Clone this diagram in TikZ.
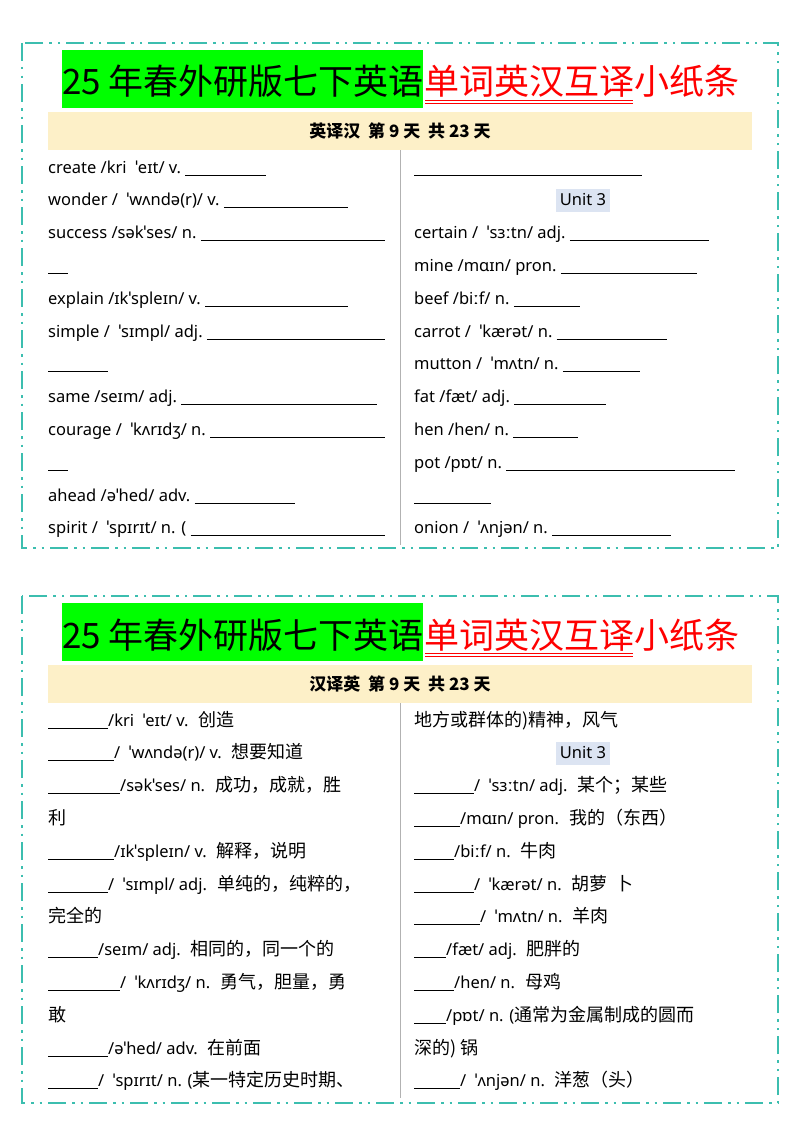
\documentclass[tikz,border=0pt]{standalone}
\usepackage{fontspec}
\setmainfont{Noto Sans}
\newfontfamily\cjk{Noto Sans CJK SC}
\newcommand{\C}[1]{{\cjk\fontsize{18}{20}\selectfont #1}}
\definecolor{teal1}{RGB}{60,190,175}
\definecolor{tan1}{RGB}{253,240,200}
\definecolor{green1}{RGB}{0,255,0}
\definecolor{red1}{RGB}{255,0,0}
\definecolor{unitbg}{RGB}{220,228,242}
\newcommand{\fillto}[2]{\makebox[#1pt][l]{#2\ \leaders\hrule height -1.6pt depth 2.4pt\hfill}}
\newcommand{\bl}[1]{\rule[-2.4pt]{#1pt}{0.8pt}}
\tikzset{x=1pt,y=-1pt,
 frame/.style={draw=teal1,line width=2.6pt,dash pattern=on 18pt off 6pt on 2.5pt off 6pt on 2.5pt off 6pt},
 row/.style={anchor=base west,inner sep=0pt,font=\fontsize{16.5}{20}\selectfont},
 ttl/.style={anchor=base west,inner sep=0pt,font=\cjk\fontsize{35}{40}\selectfont}}
\newcommand{\R}[1]{173+32.8*(#1-1)}
\begin{document}
\begin{tikzpicture}
\useasboundingbox (0,0) rectangle (800,1132);
\fill[white] (0,0) rectangle (800,1132);
% ---------- panel 1
\begin{scope}
\draw[frame] (22,43) rectangle (778,548);
\fill[green1] (62,50) rectangle (423,108);
\node[ttl] (t1a) at (62,95) {25 年春外研版七下英语};
\node[ttl,text=red1] (t1b) at (t1a.base east) {单词英汉互译小纸条};
\draw[red1,line width=1pt] (425,100) -- (633,100) (425,103.5) -- (633,103.5);
\fill[tan1] (48,112) rectangle (752,150);
\node[font=\cjk\fontsize{17}{20}\selectfont\bfseries] (h1) at (400,131) {英译汉 \ 第 9 天 \ 共 23 天};
\draw[gray!60,line width=0.8pt] (400,150) -- (400,545);
\node[row] (a1) at (48,{\R1}) {\fillto{218}{create /kri \ ˈeɪt/ v.}};
\node[row] (a2) at (48,{\R2}) {\fillto{300}{wonder / \ ˈwʌndə(r)/ v.}};
\node[row] (a3) at (48,{\R3}) {\fillto{337}{success /səkˈses/ n.}};
\node[row] (a4) at (48,{\R4}) {\bl{20}};
\node[row] (a5) at (48,{\R5}) {\fillto{300}{explain /ɪkˈspleɪn/ v.}};
\node[row] (a6) at (48,{\R6}) {\fillto{337}{simple / \ ˈsɪmpl/ adj.}};
\node[row] (a7) at (48,{\R7}) {\bl{60}};
\node[row] (a8) at (48,{\R8}) {\fillto{329}{same /seɪm/ adj.}};
\node[row] (a9) at (48,{\R9}) {\fillto{337}{courage / \ ˈkʌrɪdʒ/ n.}};
\node[row] (a10) at (48,{\R{10}}) {\bl{20}};
\node[row] (a11) at (48,{\R{11}}) {\fillto{247}{ahead /əˈhed/ adv.}};
\node[row] (a12) at (48,{\R{12}}) {\fillto{337}{spirit / \ ˈspɪrɪt/ n. (}};
\node[row] (b1) at (414,{\R1}) {\bl{228}};
\fill[unitbg] (556,{\R2-17}) rectangle (610,{\R2+6});
\node[row,anchor=base] (b2) at (583,{\R2}) {Unit 3};
\node[row] (b3) at (414,{\R3}) {\fillto{295}{certain / \ ˈsɜːtn/ adj.}};
\node[row] (b4) at (414,{\R4}) {\fillto{283}{mine /mɑɪn/ pron.}};
\node[row] (b5) at (414,{\R5}) {\fillto{166}{beef /biːf/ n.}};
\node[row] (b6) at (414,{\R6}) {\fillto{253}{carrot / \ ˈkærət/ n.}};
\node[row] (b7) at (414,{\R7}) {\fillto{226}{mutton / \ ˈmʌtn/ n.}};
\node[row] (b8) at (414,{\R8}) {\fillto{192}{fat /fæt/ adj.}};
\node[row] (b9) at (414,{\R9}) {\fillto{164}{hen /hen/ n.}};
\node[row] (b10) at (414,{\R{10}}) {\fillto{321}{pot /pɒt/ n.}};
\node[row] (b11) at (414,{\R{11}}) {\bl{77}};
\node[row] (b12) at (414,{\R{12}}) {\fillto{257}{onion / \ ˈʌnjən/ n.}};
\end{scope}
% ---------- panel 2
\begin{scope}[shift={(0,553)}]
\draw[frame] (22,43) rectangle (778,550);
\fill[green1] (62,50) rectangle (423,108);
\node[ttl] (t2a) at (62,95) {25 年春外研版七下英语};
\node[ttl,text=red1] (t2b) at (t2a.base east) {单词英汉互译小纸条};
\draw[red1,line width=1pt] (425,100) -- (633,100) (425,103.5) -- (633,103.5);
\fill[tan1] (48,112) rectangle (752,150);
\node[font=\cjk\fontsize{17}{20}\selectfont\bfseries] (h2) at (400,131) {汉译英 \ 第 9 天 \ 共 23 天};
\draw[gray!60,line width=0.8pt] (400,150) -- (400,545);
\node[row] (c1) at (48,{\R1}) {\bl{60}/kri \ ˈeɪt/ v. \ \C{创造}};
\node[row] (c2) at (48,{\R2}) {\bl{66}/ \ ˈwʌndə(r)/ v. \ \C{想要知道}};
\node[row] (c3) at (48,{\R3}) {\bl{72}/səkˈses/ n. \ \C{成功，成就，胜}};
\node[row] (c4) at (48,{\R4}) {\C{利}};
\node[row] (c5) at (48,{\R5}) {\bl{66}/ɪkˈspleɪn/ v. \ \C{解释，说明}};
\node[row] (c6) at (48,{\R6}) {\bl{60}/ \ ˈsɪmpl/ adj. \ \C{单纯的，纯粹的，}};
\node[row] (c7) at (48,{\R7}) {\C{完全的}};
\node[row] (c8) at (48,{\R8}) {\bl{50}/seɪm/ adj. \ \C{相同的，同一个的}};
\node[row] (c9) at (48,{\R9}) {\bl{72}/ \ ˈkʌrɪdʒ/ n. \ \C{勇气，胆量，勇}};
\node[row] (c10) at (48,{\R{10}}) {\C{敢}};
\node[row] (c11) at (48,{\R{11}}) {\bl{60}/əˈhed/ adv. \ \C{在前面}};
\node[row] (c12) at (48,{\R{12}}) {\bl{50}/ \ ˈspɪrɪt/ n. (\C{某一特定历史时期、}};
\node[row] (d1) at (414,{\R1}) {\C{地方或群体的)精神，风气}};
\fill[unitbg] (556,{\R2-17}) rectangle (610,{\R2+6});
\node[row,anchor=base] (d2) at (583,{\R2}) {Unit 3};
\node[row] (d3) at (414,{\R3}) {\bl{60}/ \ ˈsɜːtn/ adj. \ \C{某个；某些}};
\node[row] (d4) at (414,{\R4}) {\bl{46}/mɑɪn/ pron. \ \C{我的（东西）}};
\node[row] (d5) at (414,{\R5}) {\bl{40}/biːf/ n. \ \C{牛肉}};
\node[row] (d6) at (414,{\R6}) {\bl{60}/ \ ˈkærət/ n. \ \C{胡萝 \ 卜}};
\node[row] (d7) at (414,{\R7}) {\bl{66}/ \ ˈmʌtn/ n. \ \C{羊肉}};
\node[row] (d8) at (414,{\R8}) {\bl{32}/fæt/ adj. \ \C{肥胖的}};
\node[row] (d9) at (414,{\R9}) {\bl{40}/hen/ n. \ \C{母鸡}};
\node[row] (d10) at (414,{\R{10}}) {\bl{32}/pɒt/ n. (\C{通常为金属制成的圆而}};
\node[row] (d11) at (414,{\R{11}}) {\C{深的) 锅}};
\node[row] (d12) at (414,{\R{12}}) {\bl{46}/ \ ˈʌnjən/ n. \ \C{洋葱（头）}};
\end{scope}
\end{tikzpicture}
\end{document}
